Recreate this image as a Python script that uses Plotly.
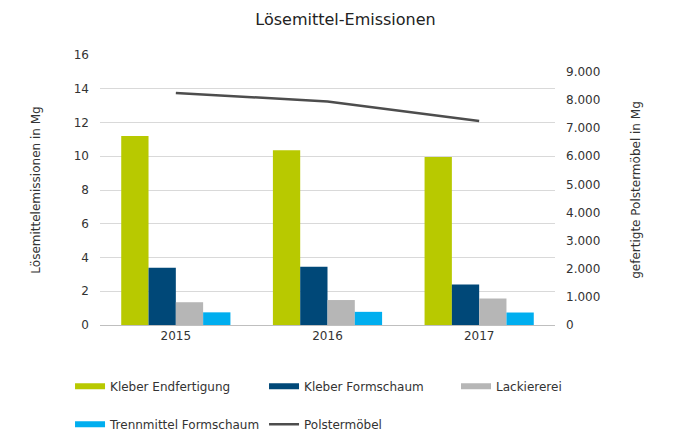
import plotly.graph_objects as go

years = ["2015", "2016", "2017"]
kleber_end = [11.2, 10.35, 9.95]
kleber_form = [3.4, 3.45, 2.4]
lackiererei = [1.35, 1.48, 1.57]
trennmittel = [0.75, 0.78, 0.74]
polstermoebel = [8250, 7950, 7250]

left_ticks = [0, 2, 4, 6, 8, 10, 12, 14, 16]
right_ticks = [0, 1000, 2000, 3000, 4000, 5000, 6000, 7000, 8000, 9000]
right_labels = ["0", "1.000", "2.000", "3.000", "4.000", "5.000", "6.000", "7.000", "8.000", "9.000"]

names = ["Kleber Endfertigung", "Kleber Formschaum", "Lackiererei", "Trennmittel Formschaum"]
colors = ["#b8c900", "#004878", "#b6b6b6", "#00aeef"]
series = [kleber_end, kleber_form, lackiererei, trennmittel]
legend_ids = ["legend", "legend2", "legend3", "legend4"]
legend_pos = [(0.0919, 0.1542), (0.3793, 0.1542), (0.6637, 0.1542), (0.0919, 0.0658)]
line_legend_pos = (0.3793, 0.0658)

FONT = "DejaVu Sans"
fig = go.Figure()
for n, c, s, lg in zip(names, colors, series, legend_ids):
    fig.add_trace(go.Bar(x=years, y=s, name=n, marker=dict(color=c, line=dict(width=0)),
                         showlegend=False))
    fig.add_trace(go.Scatter(x=[None], y=[None], mode="lines", name=n, legend=lg,
                             line=dict(color=c, width=6), showlegend=True))
fig.add_trace(go.Scatter(x=years, y=polstermoebel, name="Polstermöbel", mode="lines",
                         line=dict(color="#4d4d4d", width=2.5), yaxis="y2", legend="legend5"))


def legend_cfg(x, y):
    return dict(orientation="h", x=x, y=y, xref="container", yref="container",
                xanchor="left", yanchor="top", font=dict(size=12, color="#333333"),
                itemwidth=30, bgcolor="rgba(0,0,0,0)")


legends = {}
for lg, (lx, ly) in zip(legend_ids, legend_pos):
    legends[lg] = legend_cfg(lx, ly)
legends["legend5"] = legend_cfg(*line_legend_pos)

fig.update_layout(
    width=675, height=430,
    margin=dict(l=92, r=128, t=47, b=113, autoexpand=False),
    paper_bgcolor="white", plot_bgcolor="white",
    font=dict(family=FONT, size=12, color="#333333"),
    title=dict(text="Lösemittel-Emissionen", x=0.5, xref="container", xanchor="center",
               y=1 - 11 / 430, yanchor="middle",
               font=dict(family=FONT, size=16, color="#222222")),
    barmode="group", bargap=0.28, bargroupgap=0,
    xaxis=dict(showgrid=False, showline=True, linecolor="#bfbfbf", linewidth=1,
               ticks="", tickfont=dict(size=12)),
    yaxis=dict(range=[0, 16], tickvals=left_ticks, showgrid=True, gridcolor="#d9d9d9",
               zeroline=False, showline=False, ticks="", ticklabelstandoff=10,
               title=dict(text="Lösemittelemissionen in Mg", standoff=30, font=dict(size=12))),
    yaxis2=dict(range=[0, 9600], tickvals=right_ticks, ticktext=right_labels, overlaying="y",
                side="right", showgrid=False, zeroline=False, showline=False, ticks="",
                ticklabelstandoff=10,
                title=dict(text="gefertigte Polstermöbel in Mg", standoff=32, font=dict(size=12))),
    **legends,
)
fig.write_html("out.html")
